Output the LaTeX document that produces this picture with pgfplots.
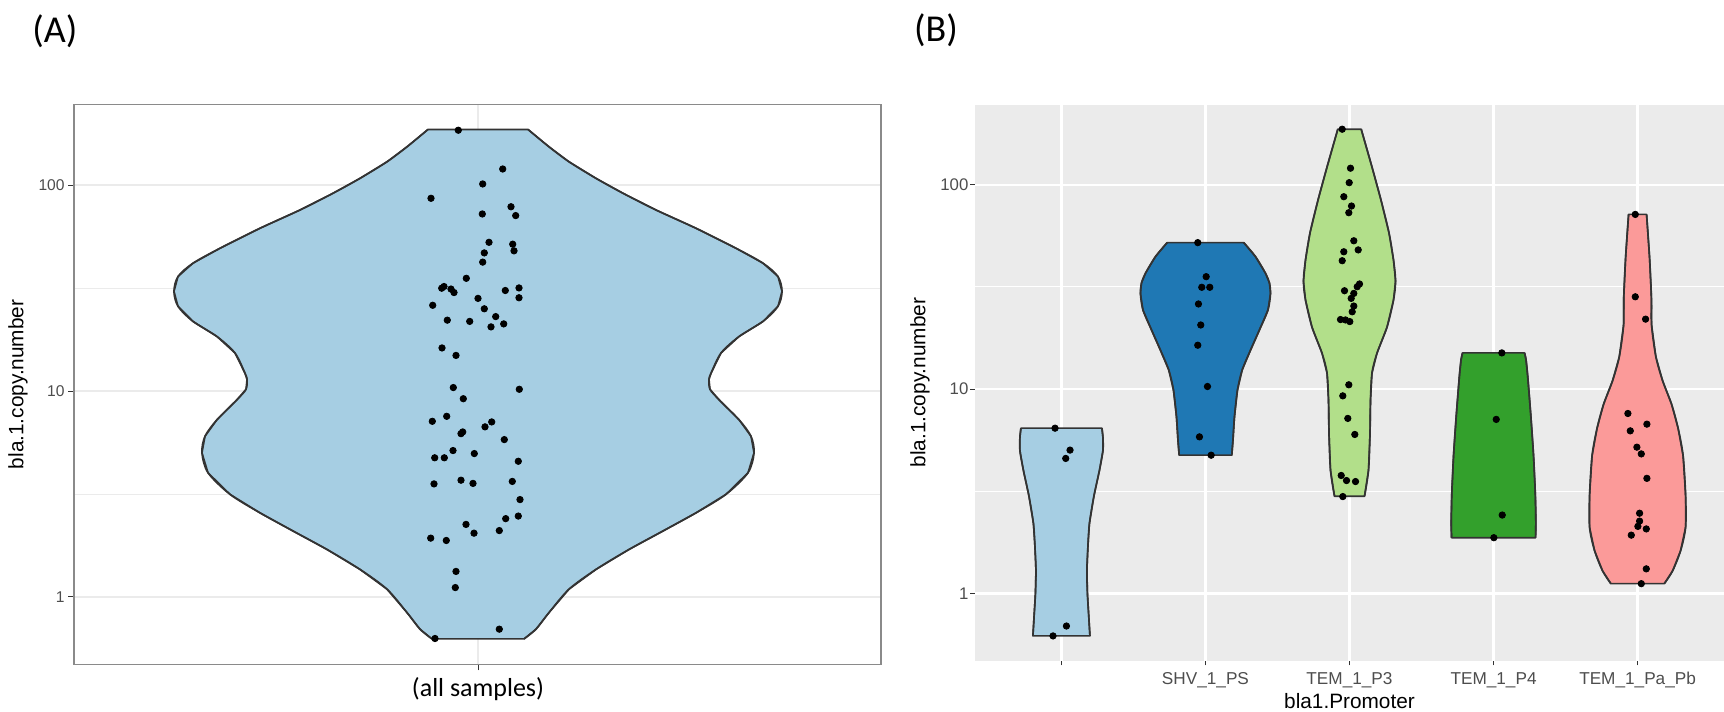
\documentclass[border=0pt]{standalone}
\usepackage{pgfplots}
\usepackage{pgfplotstable}
\pgfplotsset{compat=1.18}
\usepackage{fontspec}
\setmainfont{Liberation Sans}
\newfontfamily\calibri{Carlito}
\definecolor{vLB}{HTML}{A6CEE3}
\definecolor{vDB}{HTML}{1F78B4}
\definecolor{vLG}{HTML}{B2DF8A}
\definecolor{vDG}{HTML}{33A02C}
\definecolor{vPK}{HTML}{FB9A99}
\definecolor{g92}{HTML}{EBEBEB}
\definecolor{g20}{HTML}{333333}
\definecolor{g30}{HTML}{4D4D4D}
\definecolor{brd}{HTML}{8A8A8A}
\pgfplotsset{
  violin/.style={draw=g20, line width=0.8pt, line join=round},
  side/.style={draw=g20, fill=none, line width=0.85pt, smooth, tension=0.5, forget plot},
  dots/.style={only marks, mark=*, mark size=1.6pt, black, mark options={draw=black, fill=black}},
}
% violin outlines: w = horizontal offset from the category centre (pixels), y = copy number
% first half: right side bottom->top; second half: left side top->bottom
\pgfplotstableread{
w y
46 0.625
58 0.697
71 0.839
91 1.09
118 1.36
151 1.70
185 2.09
218 2.56
248 3.15
270 4.01
276 5.01
273 6.03
261 7.26
241 9.08
232 10.2
231 11.4
233 12.2
243 15.3
261 18.4
285 21.8
300 25.8
304 30.5
300 36.0
285 41.8
258 49.4
218 61.8
178 75.8
145 91.4
118 108
91 130
71 153.7
50 186.6
-50 186.6
-71 153.7
-91 130
-118 108
-145 91.4
-178 75.8
-218 61.8
-258 49.4
-285 41.8
-300 36.0
-304 30.5
-300 25.8
-285 21.8
-261 18.4
-243 15.3
-233 12.2
-231 11.4
-232 10.2
-241 9.08
-261 7.26
-273 6.03
-276 5.01
-270 4.01
-248 3.15
-218 2.56
-185 2.09
-151 1.70
-118 1.36
-91 1.09
-71 0.839
-58 0.697
-46 0.625
}\vAll
\pgfplotstableread{
w y
28.5 0.620
27.5 0.75
26 1.0
25.5 1.3
26.5 1.7
28 2.2
32.5 3.0
38 4.0
41.5 5.0
41.5 5.8
40.5 6.44
-40.5 6.44
-41.5 5.8
-41.5 5.0
-38 4.0
-32.5 3.0
-28 2.2
-26.5 1.7
-25.5 1.3
-26 1.0
-27.5 0.75
-28.5 0.620
}\vOne
\pgfplotstableread{
w y
26.3 4.75
27.5 5.63
29 7.32
32 9.89
36.7 12.4
45 15.5
54 19.5
62.5 24.4
65 29.4
64 33
60 36.9
50 44.5
38.3 52.1
-38.3 52.1
-50 44.5
-60 36.9
-64 33
-65 29.4
-62.5 24.4
-54 19.5
-45 15.5
-36.7 12.4
-32 9.89
-29 7.32
-27.5 5.63
-26.3 4.75
}\vSHV
\pgfplotstableread{
w y
15 2.99
19 4.01
20.5 6.09
21 8.83
22.5 12.0
27.5 15.0
37.5 20.1
44 27.3
46 33.8
44 42.8
39.5 58.1
31.5 84.1
22.5 122
11.7 187
-11.7 187
-22.5 122
-31.5 84.1
-39.5 58.1
-44 42.8
-46 33.8
-44 27.3
-37.5 20.1
-27.5 15.0
-22.5 12.0
-21 8.83
-20.5 6.09
-19 4.01
-15 2.99
}\vPthree
\pgfplotstableread{
w y
42 1.875
42.3 2.21
41.8 3.02
40 4.72
37.3 7.38
34.2 11.5
32.5 13.9
31 15.04
-31 15.04
-32.5 13.9
-34.2 11.5
-37.3 7.38
-40 4.72
-41.8 3.02
-42.3 2.21
-42 1.875
}\vPfour
\pgfplotstableread{
w y
26.7 1.117
35 1.29
43 1.62
48 2.11
48 3.02
45.5 4.72
40.5 6.44
34 8.43
25 11.0
18.3 14.4
14 20.6
13.8 28.1
12 43.8
9 71.6
-9 71.6
-12 43.8
-13.8 28.1
-14 20.6
-18.3 14.4
-25 11.0
-34 8.43
-40.5 6.44
-45.5 4.72
-48 3.02
-48 2.11
-43 1.62
-35 1.29
-26.7 1.117
}\vPab
\begin{document}
\begin{tikzpicture}
\useasboundingbox (0,0) rectangle (862pt,356pt);
\node[font=\calibri\fontsize{19}{22}\selectfont] at (27.5pt,340.25pt) {(A)};
\node[font=\calibri\fontsize{19}{22}\selectfont] at (468pt,341pt) {(B)};

% ---------------- Panel A ----------------
\begin{axis}[
  at={(37pt,23.8pt)}, anchor=south west,
  scale only axis, width=403.5pt, height=280pt,
  xmin=-404, xmax=403,
  ymode=log, ymin=0.47, ymax=247,
  xtick={0}, xticklabels={(all samples)},
  ytick={1,10,100}, yticklabels={1,10,100},
  minor ytick={3.1623,31.623},
  grid=both,
  major grid style={line width=0.8pt, color=g92},
  minor grid style={line width=0.4pt, color=g92},
  axis line style={draw=brd, line width=0.7pt},
  tick align=outside, xtick pos=left, ytick pos=left,
  major tick length=3pt, minor tick length=0pt,
  tick style={color=g20, line width=0.5pt},
  /pgf/number format/assume math mode=true,
  yticklabel style={font=\fontsize{7.8}{9}\selectfont, text=g30, inner sep=1.5pt},
  xticklabel style={font=\calibri\fontsize{13}{15}\selectfont, text=black, inner sep=2.5pt, yshift=-1pt},
  every axis y label/.style={at={(axis description cs:-0.0694,0.5)}, rotate=90, anchor=center, font=\fontsize{10.4}{12}\selectfont},
  ylabel={bla.1.copy.number},
]
\addplot[violin, fill=vLB] table[x=w, y=y] {\vAll} -- cycle;
\addplot[side, skip coords between index={32}{64}] table[x=w, y=y] {\vAll};
\addplot[side, skip coords between index={0}{32}] table[x=w, y=y] {\vAll};
\addplot[dots] table[x=dx, y=y] {
dx y
-19.7 185
24.7 119.9
4.7 101.4
-47 86.4
33 78.6
37.7 71.2
4.3 72.5
11 52.8
6.3 46.9
34.7 51.7
36 48.0
4.7 42.3
-11.7 35.3
-36.3 31.6
-34 32.2
-27 31.3
-24 30.1
27.3 30.8
-45.3 26.1
0 28.2
6.3 25.1
17.7 23.0
-30.7 22.1
-8.3 21.8
13 20.5
25.7 21.2
41 31.7
41 28.4
-36 16.2
-22 14.9
-24.7 10.4
-14.7 9.18
41.3 10.2
-31.3 7.54
-45.7 7.13
13.7 7.08
7 6.70
-17 6.21
-15.3 6.33
26.3 5.81
-25 5.14
-43.3 4.74
-33.7 4.74
-3.7 4.97
40.3 4.56
-44 3.54
-17 3.69
-5 3.56
34.3 3.64
42 2.97
27.7 2.40
40.3 2.47
-12 2.25
-4 2.04
21.3 2.10
-47.3 1.93
-31.7 1.88
-22 1.33
-22.7 1.11
21.3 0.697
-43 0.628
};
\end{axis}

% ---------------- Panel B ----------------
\begin{axis}[
  at={(487.5pt,25.75pt)}, anchor=south west,
  scale only axis, width=374.5pt, height=278pt,
  xmin=0.4, xmax=5.6,
  ymode=log, ymin=0.47, ymax=247,
  xtick={1,2,3,4,5},
  xticklabels={{},SHV\_1\_PS,TEM\_1\_P3,TEM\_1\_P4,TEM\_1\_Pa\_Pb},
  ytick={1,10,100}, yticklabels={1,10,100},
  minor ytick={3.1623,31.623},
  grid=both,
  major grid style={line width=1.1pt, color=white},
  minor grid style={line width=0.5pt, color=white},
  axis background/.style={fill=g92},
  axis line style={draw=none},
  tick align=outside, xtick pos=left, ytick pos=left,
  major tick length=2.5pt, minor tick length=0pt,
  tick style={color=g20, line width=0.5pt},
  /pgf/number format/assume math mode=true,
  yticklabel style={font=\fontsize{8.4}{10}\selectfont, text=g30, inner sep=0.6pt},
  xticklabel style={font=\fontsize{8.6}{10}\selectfont, text=g30, inner sep=1.2pt, yshift=-2pt},
  every axis y label/.style={at={(axis description cs:-0.0734,0.5)}, rotate=90, anchor=center, font=\fontsize{10.4}{12}\selectfont},
  every axis x label/.style={at={(axis description cs:0.5,-0.0674)}, anchor=center, yshift=-1.5pt, font=\fontsize{10.4}{12}\selectfont},
  ylabel={bla.1.copy.number},
  xlabel={bla1.Promoter},
]
\addplot[violin, fill=vLB] table[x expr=1+\thisrow{w}/144, y=y] {\vOne} -- cycle;
\addplot[side, skip coords between index={11}{22}] table[x expr=1+\thisrow{w}/144, y=y] {\vOne};
\addplot[side, skip coords between index={0}{11}] table[x expr=1+\thisrow{w}/144, y=y] {\vOne};
\addplot[violin, fill=vDB] table[x expr=2+\thisrow{w}/144, y=y] {\vSHV} -- cycle;
\addplot[side, skip coords between index={13}{26}] table[x expr=2+\thisrow{w}/144, y=y] {\vSHV};
\addplot[side, skip coords between index={0}{13}] table[x expr=2+\thisrow{w}/144, y=y] {\vSHV};
\addplot[violin, fill=vLG] table[x expr=3+\thisrow{w}/144, y=y] {\vPthree} -- cycle;
\addplot[side, skip coords between index={14}{28}] table[x expr=3+\thisrow{w}/144, y=y] {\vPthree};
\addplot[side, skip coords between index={0}{14}] table[x expr=3+\thisrow{w}/144, y=y] {\vPthree};
\addplot[violin, fill=vDG] table[x expr=4+\thisrow{w}/144, y=y] {\vPfour} -- cycle;
\addplot[side, skip coords between index={8}{16}] table[x expr=4+\thisrow{w}/144, y=y] {\vPfour};
\addplot[side, skip coords between index={0}{8}] table[x expr=4+\thisrow{w}/144, y=y] {\vPfour};
\addplot[violin, fill=vPK] table[x expr=5+\thisrow{w}/144, y=y] {\vPab} -- cycle;
\addplot[side, skip coords between index={14}{28}] table[x expr=5+\thisrow{w}/144, y=y] {\vPab};
\addplot[side, skip coords between index={0}{14}] table[x expr=5+\thisrow{w}/144, y=y] {\vPab};
% points
\addplot[dots] table[x expr=1+\thisrow{dx}/144, y=y] {
dx y
-6.4 6.44
8.6 5.03
4.3 4.58
5 0.693
-8.4 0.620
};
\addplot[dots] table[x expr=2+\thisrow{dx}/144, y=y] {
dx y
-7.7 52.1
0.7 35.5
-3.7 31.5
4.3 31.5
-7 26.1
-4.7 20.6
-7.7 16.4
2 10.3
-6 5.84
5.7 4.75
};
\addplot[dots] table[x expr=3+\thisrow{dx}/144, y=y] {
dx y
-7.3 187
1 120.5
-0.3 102.4
-5.7 87.4
2 78.7
-0.7 73.0
4.3 53.2
8.7 48.0
-5.7 47.0
-7.3 42.5
10 32.7
7.7 31.7
-5 30.3
4.3 29.4
1.7 27.8
4.3 25.5
2.7 23.9
-9 21.9
-4 21.8
0.3 21.4
-0.7 10.5
-6.7 9.27
-1.7 7.19
5.3 6.00
-8.3 3.78
-3 3.57
6 3.53
-6.7 2.98
};
\addplot[dots] table[x expr=4+\thisrow{dx}/144, y=y] {
dx y
8.3 15.04
2.7 7.11
8.7 2.42
0.3 1.875
};
\addplot[dots] table[x expr=5+\thisrow{dx}/144, y=y] {
dx y
-2.3 71.6
-2.3 28.3
8 22.0
-9.7 7.60
9.3 6.74
-7.3 6.25
-0.7 5.20
3.7 4.82
9.3 3.66
2 2.47
2 2.26
0.3 2.13
8.7 2.07
-6.3 1.93
8.7 1.32
3.7 1.117
};
\end{axis}
\end{tikzpicture}
\end{document}
